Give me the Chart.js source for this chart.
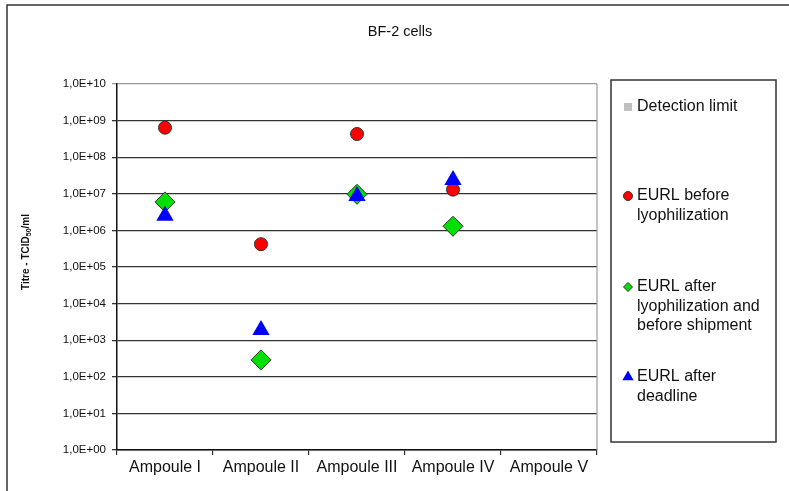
<!DOCTYPE html>
<html>
<head>
<meta charset="utf-8">
<script src="https://cdn.jsdelivr.net/npm/chart.js@4"></script>
<style>
  html, body { margin: 0; padding: 0; background: #fff; }
  #chart { display: block; }
</style>
</head>
<body>
<canvas id="chart" width="789" height="491"></canvas>
<script>
// Data
const categories = ['Ampoule I', 'Ampoule II', 'Ampoule III', 'Ampoule IV', 'Ampoule V'];
const detectionLimit = [null, null, null, null, null];
const beforeLyophilization = [6.4e8, 4.2e5, 4.3e8, 1.3e7, null];
const afterLyophilization = [6.0e6, 2.9e2, 9.7e6, 1.3e6, null];
const afterDeadline = [2.5e6, 1.9e3, 8.7e6, 2.4e7, null];
const yTicks = [1, 1e1, 1e2, 1e3, 1e4, 1e5, 1e6, 1e7, 1e8, 1e9, 1e10];
const yTickLabels = ['1,0E+00', '1,0E+01', '1,0E+02', '1,0E+03', '1,0E+04', '1,0E+05',
                     '1,0E+06', '1,0E+07', '1,0E+08', '1,0E+09', '1,0E+10'];

const FONT = '"Liberation Sans", Arial, sans-serif';
const TEXT = '#111';

// legend entries: lines of text and first-line y position
const legendEntries = [
    { lines: ['Detection limit'], y: 107 },
    { lines: ['EURL before', 'lyophilization'], y: 196 },
    { lines: ['EURL after', 'lyophilization and', 'before shipment'], y: 287 },
    { lines: ['EURL after', 'deadline'], y: 377 }
];

function drawMarker(ctx, style, x, y, r, fill, stroke) {
    ctx.save();
    ctx.fillStyle = fill;
    ctx.strokeStyle = stroke;
    ctx.lineWidth = 1;
    ctx.beginPath();
    if (style === 'rect') {
        ctx.rect(x - r, y - r, 2 * r, 2 * r);
    } else if (style === 'circle') {
        ctx.arc(x, y, r, 0, Math.PI * 2);
    } else if (style === 'rectRot') {
        ctx.moveTo(x - r, y); ctx.lineTo(x, y - r); ctx.lineTo(x + r, y); ctx.lineTo(x, y + r);
        ctx.closePath();
    } else if (style === 'triangle') {
        ctx.moveTo(x, y - r); ctx.lineTo(x + r * 0.866, y + r / 2); ctx.lineTo(x - r * 0.866, y + r / 2);
        ctx.closePath();
    }
    ctx.fill();
    if (stroke) ctx.stroke();
    ctx.restore();
}

const decorPlugin = {
    id: 'decor',
    beforeDraw(chart) {
        const ctx = chart.ctx;
        ctx.save();
        ctx.fillStyle = '#fff';
        ctx.fillRect(0, 0, chart.width, chart.height);
        ctx.restore();
    },
    afterDatasetsDraw(chart) {
        // markers sit above grid but the axis lines stay visible
    },
    afterDraw(chart) {
        const ctx = chart.ctx;
        const area = chart.chartArea;
        ctx.save();

        // outer frame (open at right and bottom)
        ctx.strokeStyle = '#333';
        ctx.lineWidth = 1.5;
        ctx.beginPath();
        ctx.moveTo(7, chart.height);
        ctx.lineTo(7, 5);
        ctx.lineTo(chart.width, 5);
        ctx.stroke();

        // grey right border of the plot area
        ctx.strokeStyle = '#999';
        ctx.lineWidth = 1.2;
        ctx.beginPath();
        ctx.moveTo(area.right, area.top);
        ctx.lineTo(area.right, area.bottom);
        ctx.stroke();

        // title
        ctx.fillStyle = TEXT;
        ctx.font = '14.5px ' + FONT;
        ctx.textAlign = 'center';
        ctx.textBaseline = 'middle';
        ctx.fillText('BF-2 cells', 400, 32);

        // y axis title with subscript
        ctx.save();
        ctx.translate(26, 252);
        ctx.rotate(-Math.PI / 2);
        const parts = [['Titre - TCID', 'bold 10px ', 0], ['50', 'bold 7px ', 3], ['/ml', 'bold 10px ', 0]];
        let total = 0;
        parts.forEach(p => { ctx.font = p[1] + FONT; total += ctx.measureText(p[0]).width; });
        let px = -total / 2;
        ctx.textAlign = 'left';
        parts.forEach(p => {
            ctx.font = p[1] + FONT;
            ctx.fillText(p[0], px, p[2]);
            px += ctx.measureText(p[0]).width;
        });
        ctx.restore();

        // legend box
        ctx.strokeStyle = '#333';
        ctx.lineWidth = 1.5;
        ctx.strokeRect(611, 80, 165, 362);

        ctx.font = '16px ' + FONT;
        ctx.textAlign = 'left';
        ctx.textBaseline = 'middle';
        chart.data.datasets.forEach((ds, i) => {
            const entry = legendEntries[i];
            const size = ds.legendRadius;
            drawMarker(ctx, ds.pointStyle, 628, entry.y, size, ds.pointBackgroundColor,
                ds.pointBorderWidth ? ds.pointBorderColor : null);
            ctx.fillStyle = TEXT;
            entry.lines.forEach((line, k) => ctx.fillText(line, 637, entry.y + k * 19.5));
        });
        ctx.restore();
    }
};

const ctx = document.getElementById('chart').getContext('2d');
new Chart(ctx, {
    type: 'line',
    data: {
        labels: categories,
        datasets: [{
            label: 'Detection limit',
            data: detectionLimit,
            pointStyle: 'rect',
            pointBackgroundColor: '#c0c0c0',
            pointBorderColor: '#c0c0c0',
            pointBorderWidth: 0,
            legendRadius: 4,
            order: 4
        }, {
            label: 'EURL before lyophilization',
            data: beforeLyophilization,
            pointStyle: 'circle',
            pointRadius: 6.5,
            pointBackgroundColor: '#ff0000',
            pointBorderColor: '#333',
            pointBorderWidth: 1,
            legendRadius: 4.5,
            order: 3
        }, {
            label: 'EURL after lyophilization and before shipment',
            data: afterLyophilization,
            pointStyle: 'rectRot',
            pointRadius: 10,
            pointBackgroundColor: '#00e000',
            pointBorderColor: '#333',
            pointBorderWidth: 1,
            legendRadius: 4.5,
            order: 2
        }, {
            label: 'EURL after deadline',
            data: afterDeadline,
            pointStyle: 'triangle',
            pointRadius: 10,
            pointBackgroundColor: '#0000ff',
            pointBorderColor: '#0000ff',
            pointBorderWidth: 0,
            legendRadius: 6.5,
            order: 1
        }]
    },
    options: {
        responsive: false,
        animation: false,
        devicePixelRatio: 1,
        showLine: false,
        layout: { padding: { top: 84, right: 192, bottom: 0, left: 0 } },
        plugins: {
            legend: { display: false },
            title: { display: false },
            tooltip: { enabled: false }
        },
        scales: {
            x: {
                type: 'category',
                offset: true,
                grid: { offset: true, drawOnChartArea: false, tickLength: 5, color: '#333', lineWidth: 1.2 },
                border: { color: '#111', width: 1.5 },
                ticks: { color: TEXT, font: { family: FONT, size: 16 }, padding: 3, maxRotation: 0 },
                afterFit: scale => { scale.height = 41; }
            },
            y: {
                type: 'logarithmic',
                min: 1,
                max: 1e10,
                afterBuildTicks: scale => { scale.ticks = yTicks.map(v => ({ value: v })); },
                grid: {
                    tickLength: 5,
                    lineWidth: 1.3,
                    color: c => (c.tick && c.tick.value === 1e10) ? '#999' : '#333'
                },
                border: { color: '#111', width: 1.5 },
                ticks: {
                    color: TEXT,
                    font: { family: FONT, size: 11.5 },
                    padding: 6,
                    autoSkip: false,
                    callback: value => yTickLabels[yTicks.indexOf(value)]
                },
                afterFit: scale => { scale.width = 117; }
            }
        }
    },
    plugins: [decorPlugin]
});
</script>
</body>
</html>
